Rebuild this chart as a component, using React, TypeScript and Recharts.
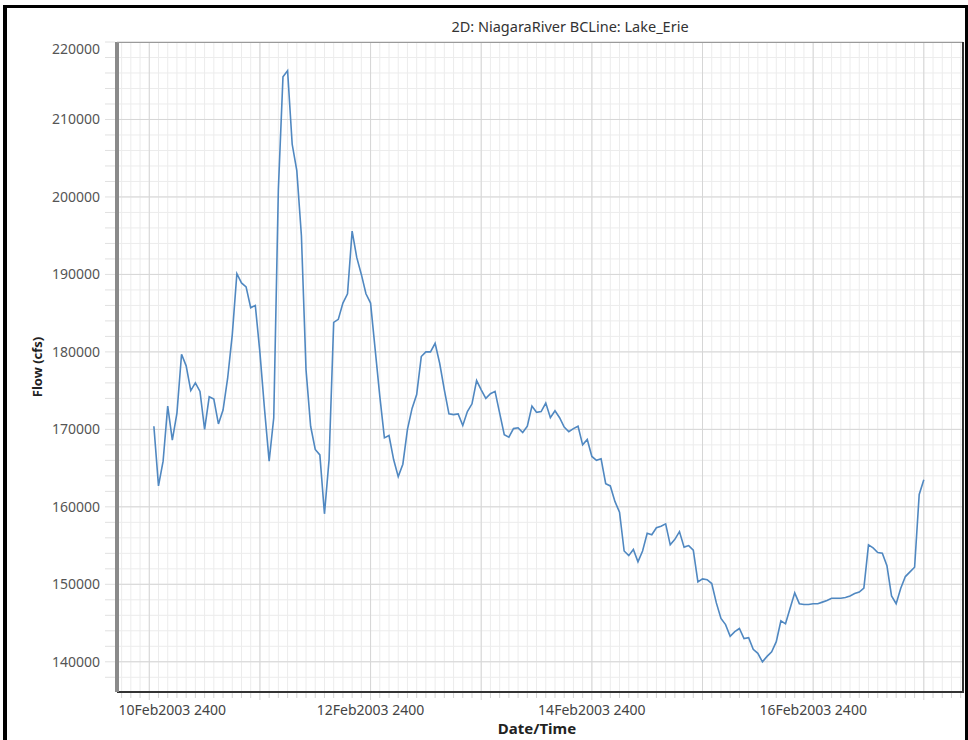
import { LineChart, Line, XAxis, YAxis, CartesianGrid, Label } from "recharts";

// hourly flow at the Lake Erie boundary, hour 1 = 11Feb2003 0100
const flowCfs = [
  170400, 162700, 165900, 173000, 168600, 172100, 179700, 178200, 175000, 176000,
  174900, 170000, 174200, 173900, 170700, 172500, 176600, 182200, 190100, 188900,
  188400, 185700, 186000, 179900, 172600, 165900, 171500, 201000, 215500, 216300,
  206800, 203400, 195000, 177700, 170400, 167400, 166700, 159100, 166100, 183800,
  184200, 186300, 187500, 195600, 192200, 190000, 187500, 186300, 180300, 174300,
  168900, 169200, 166100, 163900, 165500, 170000, 172700, 174500, 179400, 180000,
  180000, 181100, 178500, 175100, 172000, 171900, 172000, 170500, 172300, 173300,
  176300, 175100, 174000, 174600, 174900, 172100, 169300, 169000, 170100, 170200,
  169600, 170400, 173000, 172200, 172300, 173400, 171500, 172400, 171500, 170300,
  169700, 170100, 170400, 168000, 168700, 166500, 166000, 166200, 163000, 162700,
  160700, 159300, 154300, 153700, 154500, 152900, 154300, 156600, 156400, 157300,
  157500, 157800, 155100, 155800, 156800, 154800, 155000, 154400, 150300, 150700,
  150600, 150100, 147600, 145600, 144800, 143300, 143900, 144300, 143000, 143100,
  141600, 141100, 140000, 140700, 141300, 142600, 145300, 144900, 146900, 148900,
  147500, 147400, 147400, 147500, 147500, 147700, 147900, 148200, 148200, 148200,
  148300, 148500, 148800, 149000, 149500, 155100, 154700, 154100, 154000, 152400,
  148500, 147500, 149500, 151000, 151600, 152200, 161600, 163500,
];

const labelHours = [0, 48, 96, 144];
const labelText = ["10Feb2003 2400", "12Feb2003 2400", "14Feb2003 2400", "16Feb2003 2400"];
const dayHours = [0, 24, 48, 72, 96, 120, 144, 168];
const flowMajor = [140000, 150000, 160000, 170000, 180000, 190000, 200000, 210000, 220000];

const hourDomain = [-7, 176.5];
const flowDomain = [136100, 220000];

// 2-hour and 2000 cfs minor steps for the fine grid
const minorHours: number[] = [];
for (let h = -6; h <= 176; h += 2) minorHours.push(h);
const minorFlow: number[] = [];
for (let f = 138000; f <= 220000; f += 2000) minorFlow.push(f);

const data = flowCfs.map((flow, i) => ({ hour: i + 1, flow }));

const FONT = "'Noto Sans', 'Open Sans', sans-serif";

function TimeTick({ x, y, payload }: any) {
  const v = payload.value as number;
  const idx = labelHours.indexOf(v);
  const major = v % 24 === 0;
  return (
    <g>
      <line x1={x} x2={x} y1={y + 1} y2={y + (major ? 8 : 6)} stroke="#d4d4d4" strokeWidth={1} />
      {idx >= 0 && (
        <text
          x={x}
          y={y + 23}
          dx={idx === 0 ? 23 : 0}
          textAnchor="middle"
          fontSize={14}
          fontFamily={FONT}
          fill="#444"
        >
          {labelText[idx]}
        </text>
      )}
    </g>
  );
}

function FlowTick({ x, y, payload }: any) {
  const v = payload.value as number;
  const major = v % 10000 === 0;
  return (
    <g>
      <line x1={x - 12} x2={x - 2} y1={y} y2={y} stroke="#e0e0e0" strokeWidth={1} />
      {major && (
        <text
          x={x - 17}
          y={y}
          dy={v === 220000 ? 12 : 5}
          textAnchor="end"
          fontSize={14}
          fontFamily={FONT}
          fill="#555"
        >
          {v}
        </text>
      )}
    </g>
  );
}

export default function App() {
  return (
    <div style={{ position: "absolute", left: 0, top: 0, width: 968, height: 740, background: "#fff" }}>
      {/* outer black frame */}
      <div style={{ position: "absolute", left: 3, top: 5, width: 965, height: 3, background: "#000" }} />
      <div style={{ position: "absolute", left: 3, top: 5, width: 4, height: 735, background: "#000" }} />
      <div style={{ position: "absolute", left: 965, top: 5, width: 3, height: 735, background: "#000" }} />

      <div
        style={{
          position: "absolute",
          left: 0,
          top: 16,
          width: 1140,
          textAlign: "center",
          fontFamily: FONT,
          fontSize: 14.5,
          color: "#333",
        }}
      >
        2D: NiagaraRiver BCLine: Lake_Erie
      </div>

      <div style={{ position: "absolute", left: 0, top: 0 }}>
        <LineChart width={964} height={740} data={data} margin={{ top: 42, right: 1, bottom: 0, left: 0 }}>
          <CartesianGrid
            verticalValues={minorHours}
            horizontalValues={minorFlow}
            stroke="#ececec"
            strokeWidth={1}
          />
          <CartesianGrid
            verticalValues={dayHours}
            horizontalValues={flowMajor}
            stroke="#d6d6d6"
            strokeWidth={1}
          />
          <XAxis
            dataKey="hour"
            type="number"
            domain={hourDomain}
            allowDataOverflow
            ticks={minorHours}
            interval={0}
            tick={<TimeTick />}
            tickLine={false}
            tickSize={0}
            tickMargin={0}
            height={48}
            axisLine={{ stroke: "#333", strokeWidth: 2 }}
          >
            <Label
              content={({ viewBox }: any) => (
                <text
                  x={viewBox.x + viewBox.width / 2 - 3}
                  y={viewBox.y + 42}
                  textAnchor="middle"
                  fontSize={15}
                  fontWeight="bold"
                  fontFamily={FONT}
                  fill="#222"
                >
                  Date/Time
                </text>
              )}
            />
          </XAxis>
          <YAxis
            type="number"
            domain={flowDomain}
            allowDataOverflow
            ticks={minorFlow}
            interval={0}
            tick={<FlowTick />}
            tickLine={false}
            tickSize={0}
            tickMargin={0}
            width={117}
            axisLine={{ stroke: "#8a8a8a", strokeWidth: 4 }}
          >
            <Label
              content={({ viewBox }: any) => {
                const cx = viewBox.x + 37;
                const cy = viewBox.y + viewBox.height / 2;
                return (
                  <text
                    x={cx}
                    y={cy}
                    transform={`rotate(-90 ${cx} ${cy})`}
                    textAnchor="middle"
                    dominantBaseline="central"
                    fontSize={13}
                    fontWeight="bold"
                    fontFamily={FONT}
                    fill="#222"
                  >
                    Flow (cfs)
                  </text>
                );
              }}
            />
          </YAxis>
          <Line
            type="linear"
            dataKey="flow"
            stroke="#5088c1"
            strokeWidth={1.6}
            dot={false}
            isAnimationActive={false}
          />
        </LineChart>
      </div>

      {/* plot frame: thin top edge, dark right edge */}
      <div style={{ position: "absolute", left: 117, top: 42, width: 846, height: 1, background: "#9a9a9a" }} />
      <div style={{ position: "absolute", left: 962, top: 42, width: 2, height: 651, background: "#333" }} />
    </div>
  );
}
